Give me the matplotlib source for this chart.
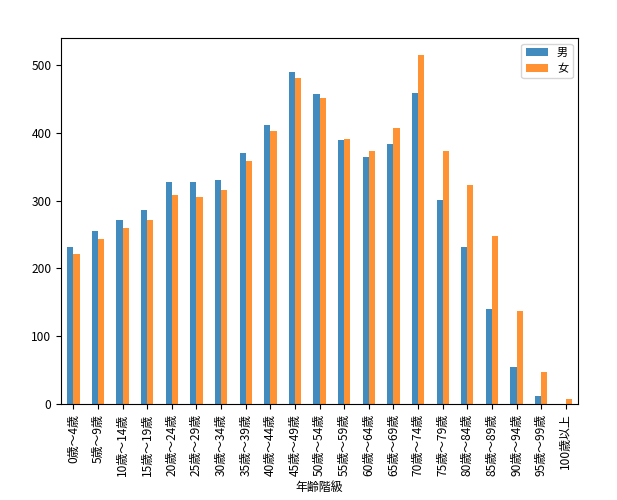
import matplotlib
matplotlib.use("Agg")
import matplotlib.pyplot as plt
import pandas as pd

plt.rcParams['font.family'] = ['Noto Sans CJK JP', 'DejaVu Sans']
plt.rcParams['font.size'] = 8.6

# age groups (5-year bins)
ages = ["0歳～4歳", "5歳～9歳", "10歳～14歳", "15歳～19歳", "20歳～24歳",
        "25歳～29歳", "30歳～34歳", "35歳～39歳", "40歳～44歳", "45歳～49歳",
        "50歳～54歳", "55歳～59歳", "60歳～64歳", "65歳～69歳", "70歳～74歳",
        "75歳～79歳", "80歳～84歳", "85歳～89歳", "90歳～94歳", "95歳～99歳",
        "100歳以上"]
male = [232, 255, 272, 286, 327, 327, 330, 370, 412, 490,
        457, 390, 364, 384, 459, 301, 231, 140, 54, 12, 0]
female = [221, 244, 260, 272, 308, 305, 315, 359, 402, 480,
          451, 391, 373, 407, 514, 373, 323, 247, 137, 47, 7]

df = pd.DataFrame({"男": male, "女": female}, index=ages)
df.index.name = "年齢階級"

fig, ax = plt.subplots(figsize=(6.17, 5.0), dpi=100)
fig.subplots_adjust(left=0.099, right=0.937, top=0.924, bottom=0.192)

df.plot.bar(ax=ax, alpha=0.85)
ax.legend(loc="upper right", fontsize=8)

fig.savefig("out.png", dpi=100)
